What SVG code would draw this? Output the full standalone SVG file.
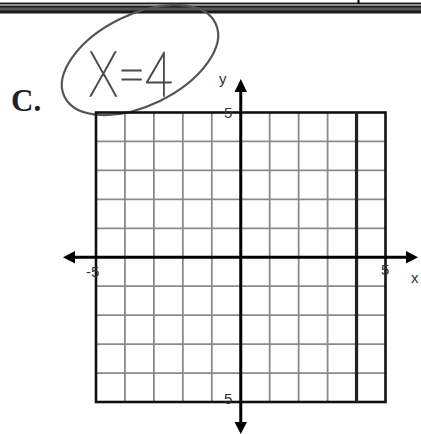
<svg xmlns="http://www.w3.org/2000/svg" width="421" height="434" viewBox="0 0 421 434">
<style>
.g{stroke:#8a8a8a;stroke-width:1.8;fill:none}
.b{stroke:#111;stroke-width:2.6;fill:none}
.ax{stroke:#000;stroke-width:3;fill:none}
.lbl{font-family:"Liberation Sans",Arial,sans-serif;font-size:15px;fill:#333}
.hand{stroke:#555;stroke-width:2.2;fill:none}
</style>
<rect width="421" height="434" fill="#fff"/>
<g id="header">
<line x1="0" y1="3.5" x2="421" y2="3.5" stroke="#222" stroke-width="2"/>
<rect x="0" y="5.5" width="421" height="8" fill="#1a1a1a"/>
<rect x="0" y="7.5" width="421" height="3" fill="#555"/>
<line x1="358.5" y1="0" x2="358.5" y2="4" stroke="#000" stroke-width="2"/>
</g>
<g id="label-c">
<text x="11" y="111" font-family="Liberation Serif,Times New Roman,serif" font-weight="bold" font-size="31" fill="#222">C.</text>
</g>
<g id="answer">
<ellipse cx="140" cy="60" rx="84" ry="45.5" transform="rotate(-26 140 60)" class="hand"/>
<text x="89" y="96" font-family="Lato,'Open Sans',sans-serif" font-weight="100" font-size="62" fill="#4a4a4a" stroke="#4a4a4a" stroke-width="1.6" textLength="84" lengthAdjust="spacingAndGlyphs">X=4</text>
</g>
<g id="grid">
<path class="g" d="M124.95 112.5V402M153.9 112.5V402M182.85 112.5V402M211.8 112.5V402M269.7 112.5V402M298.65 112.5V402M327.6 112.5V402M356.55 112.5V402
M96 141.45H385.5M96 170.4H385.5M96 199.35H385.5M96 228.3H385.5M96 286.2H385.5M96 315.15H385.5M96 344.1H385.5M96 373.05H385.5"/>
<rect class="b" x="96" y="112.5" width="289.5" height="289.5"/>
</g>
<g id="line-x4">
<line x1="356.55" y1="112.5" x2="356.55" y2="402" stroke="#222" stroke-width="3.2"/>
</g>
<g id="axes">
<line class="ax" x1="73" y1="257.25" x2="407" y2="257.25"/>
<line class="ax" x1="240.75" y1="91" x2="240.75" y2="423"/>
<polygon points="63,257.25 75,251 75,263.5" fill="#000"/>
<polygon points="418,257.25 406,251 406,263.5" fill="#000"/>
<polygon points="240.75,79 234.5,92 247,92" fill="#000"/>
<polygon points="240.75,434 234.5,422 247,422" fill="#000"/>
</g>
<g id="labels">
<text class="lbl" x="219" y="84">y</text>
<text class="lbl" x="224" y="118">5</text>
<text class="lbl" x="224" y="404">5</text>
<text class="lbl" x="86" y="277">-5</text>
<text class="lbl" x="381" y="275">5</text>
<text class="lbl" x="411" y="283">x</text>
</g>
</svg>
